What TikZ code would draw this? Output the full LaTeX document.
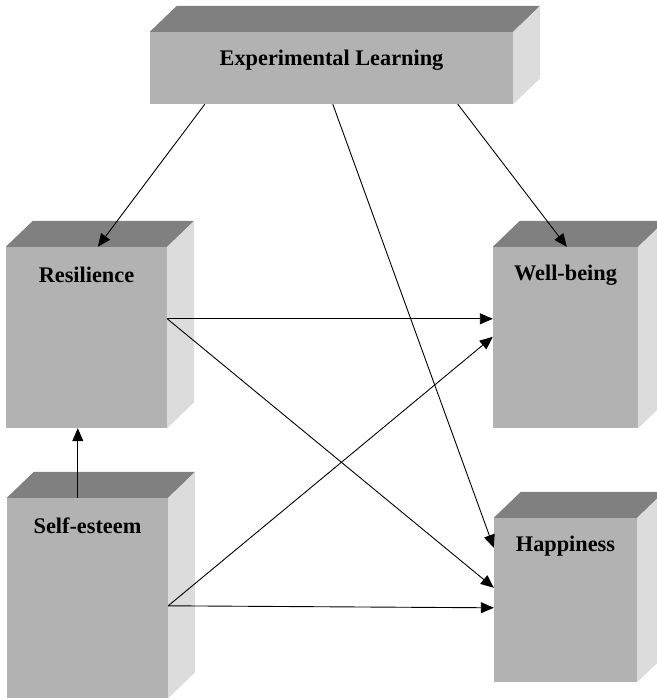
\documentclass[tikz,border=0pt]{standalone}
\usepackage{fontspec}
\setmainfont{Liberation Serif}
\usetikzlibrary{arrows.meta}
\definecolor{frontgray}{HTML}{B2B2B2}
\definecolor{topgray}{HTML}{808080}
\definecolor{sidegray}{HTML}{DCDCDC}
\begin{document}
\begin{tikzpicture}[x=1pt,y=-1pt,
    box/.style={fill=frontgray, inner sep=0pt,
      label={[anchor=center,yshift=-28pt,font=\fontsize{22.3}{26}\selectfont\bfseries]north:#1}},
    arr/.style={line width=0.9pt,-{Triangle[length=13pt,width=11pt]}}]
  \useasboundingbox (0,0) rectangle (656,700);

  \node[box={Experimental Learning}, minimum width=363pt, minimum height=72pt] (exp) at (331.5,68) {};
  \node[box={Resilience}, minimum width=161pt, minimum height=181pt] (res) at (86.5,337.5) {};
  \node[box={Self-esteem}, minimum width=161pt, minimum height=200pt] (self) at (87.5,598) {};
  \node[box={Well-being}, minimum width=145pt, minimum height=181pt] (well) at (565.5,337.5) {};
  \node[box={Happiness}, minimum width=143pt, minimum height=164pt] (hap) at (565.5,600) {};

  % top and right faces of the blocks
  \foreach \b in {exp,res,self,well,hap} {
    \fill[topgray] (\b.north west) -- ++(27,-26) -- ([shift={(27,-26)}]\b.north east) -- (\b.north east) -- cycle;
    \fill[sidegray] (\b.north east) -- ++(27,-26) -- ([shift={(27,-26)}]\b.south east) -- (\b.south east) -- cycle;
  }

  \draw[arr] ([xshift=55pt]exp.south west) -- ([xshift=92pt]res.north west);
  \draw[arr] ([xshift=183pt]exp.south west) -- ([yshift=-30pt]hap.north west);
  \draw[arr] ([xshift=308pt]exp.south west) -- ([xshift=74pt]well.north west);

  \draw[arr] ([yshift=-72pt]res.north east) -- ([yshift=-72pt]well.north west);
  \draw[arr] ([yshift=-72pt]res.north east) -- ([yshift=-70pt]hap.north west);

  \draw[arr] ([yshift=-108pt]self.north east) -- ([yshift=-90pt]well.north west);
  \draw[arr] ([yshift=-108pt]self.north east) -- ([yshift=-90pt]hap.north west);
  \draw[arr] ([xshift=71pt]self.north west) -- ([xshift=72pt]res.south west);
\end{tikzpicture}
\end{document}
